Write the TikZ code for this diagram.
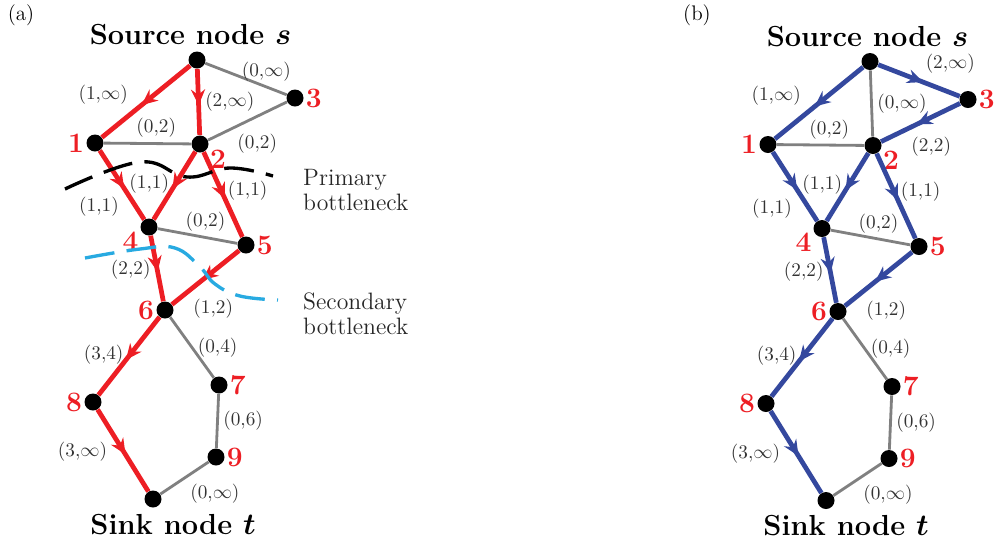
\documentclass[tikz,border=0pt]{standalone}
\usepackage{amsmath}
\usepackage{amssymb}
\usetikzlibrary{arrows.meta, positioning, decorations.markings}

\definecolor{flowred}{RGB}{237,30,36}
\definecolor{flowblue}{RGB}{52,72,158}
\definecolor{cutblue}{RGB}{40,170,225}
\definecolor{edgegray}{RGB}{128,128,128}

\tikzset{
  vertex/.style={circle, fill=black, inner sep=0pt, minimum size=0.34cm},
  num/.style={text=flowred, font=\fontsize{16}{16}\selectfont\bfseries, inner sep=1pt},
  title/.style={font=\fontsize{16.5}{18}\selectfont\bfseries},
  lab/.style={font=\fontsize{11}{13}\selectfont, text=black!80, inner sep=2.5pt},
  grayedge/.style={draw=edgegray, line width=1.6pt},
  flowedge/.style={color=#1, line width=2.7pt, postaction={decorate},
    decoration={markings, mark=at position 0.55 with {\arrow{Stealth[length=9pt,width=8pt,inset=3pt]}}}},
  cutline/.style={line width=1.9pt, dash pattern=on 17pt off 7pt},
}

\begin{document}
\begin{tikzpicture}
\useasboundingbox (0,0) rectangle (20,-10.84);

% panel (a)
\node[font=\large] (capA) at (0.42,-0.30) {(a)};
\begin{scope}
  \node[vertex] (sA) at (3.94,-1.20) {};
  \node[vertex, label={[num]right:3}] (A3) at (5.90,-1.96) {};
  \node[vertex, label={[num]left:1}] (A1) at (1.90,-2.86) {};
  \node[vertex, label={[num]-25:2}] (A2) at (4.00,-2.88) {};
  \node[vertex, label={[num]-162:4}] (A4) at (2.98,-4.54) {};
  \node[vertex, label={[num]right:5}] (A5) at (4.92,-4.90) {};
  \node[vertex, label={[num]left:6}] (A6) at (3.30,-6.20) {};
  \node[vertex, label={[num]right:7}] (A7) at (4.38,-7.70) {};
  \node[vertex, label={[num]left:8}] (A8) at (1.86,-8.04) {};
  \node[vertex, label={[num]right:9}] (A9) at (4.32,-9.14) {};
  \node[vertex] (tA) at (3.06,-9.98) {};
  \node[title, above=0pt of sA, xshift=-0.13cm] (srcA) {Source node $\boldsymbol{s}$};
  \node[title, below=0pt of tA, xshift=0.4cm] (snkA) {Sink node $\boldsymbol{t}$};

  \path (sA) edge[grayedge] node[lab, pos=0.75, above] {$(0{,}\infty)$} (A3)
        (A1) edge[grayedge] node[lab, pos=0.6, above] {$(0{,}2)$} (A2)
        (A2) edge[grayedge] node[lab, pos=0.3, below right] {$(0{,}2)$} (A3)
        (A4) edge[grayedge] node[lab, pos=0.6, above] {$(0{,}2)$} (A5)
        (A6) edge[grayedge] node[lab, pos=0.5, right] {$(0{,}4)$} (A7)
        (A7) edge[grayedge] node[lab, pos=0.5, right] {$(0{,}6)$} (A9)
        (A9) edge[grayedge] node[lab, pos=0.5, below right] {$(0{,}\infty)$} (tA);
  \path (sA) edge[flowedge=flowred] node[lab, pos=0.63, above left] {$(1{,}\infty)$} (A1)
        (sA) edge[flowedge=flowred] node[lab, pos=0.5, right] {$(2{,}\infty)$} (A2)
        (A1) edge[flowedge=flowred] node[lab, pos=0.58, below left] {$(1{,}1)$} (A4)
        (A2) edge[flowedge=flowred] node[lab, pos=0.47, left] {$(1{,}1)$} (A4)
        (A2) edge[flowedge=flowred] node[lab, pos=0.45, right] {$(1{,}1)$} (A5)
        (A4) edge[flowedge=flowred] node[lab, pos=0.52, left] {$(2{,}2)$} (A6)
        (A5) edge[flowedge=flowred] node[lab, pos=0.78, below right] {$(1{,}2)$} (A6)
        (A6) edge[flowedge=flowred] node[lab, pos=0.48, left] {$(3{,}4)$} (A8)
        (A8) edge[flowedge=flowred] node[lab, pos=0.32, below left] {$(3{,}\infty)$} (tA);

  % bottlenecks
  \draw[cutline, black] plot[smooth, tension=0.7] coordinates
    {(1.30,-3.78) (2.80,-3.24) (3.74,-3.54) (4.60,-3.36) (5.46,-3.52)};
  \draw[cutline, cutblue] plot[smooth, tension=0.7] coordinates
    {(1.70,-5.16) (2.80,-4.98) (3.50,-4.96) (4.00,-5.34) (4.30,-5.68) (4.80,-5.92) (5.56,-6.00)};
  \node[font=\fontsize{13.5}{14}\selectfont, text=black!85, align=left, anchor=west] (primA) at (5.94,-3.80) {Primary\\bottleneck};
  \node[font=\fontsize{13.5}{14}\selectfont, text=black!85, align=left, anchor=west] (secA) at (5.94,-6.28) {Secondary\\bottleneck};
\end{scope}

% panel (b)
\node[font=\large] (capB) at (13.94,-0.30) {(b)};
\begin{scope}[xshift=13.46cm, yshift=-0.03cm]
  \node[vertex] (sB) at (3.94,-1.20) {};
  \node[vertex, label={[num]right:3}] (B3) at (5.90,-1.96) {};
  \node[vertex, label={[num]left:1}] (B1) at (1.90,-2.86) {};
  \node[vertex, label={[num]-25:2}] (B2) at (4.00,-2.88) {};
  \node[vertex, label={[num]-162:4}] (B4) at (2.98,-4.54) {};
  \node[vertex, label={[num]right:5}] (B5) at (4.92,-4.90) {};
  \node[vertex, label={[num]left:6}] (B6) at (3.30,-6.20) {};
  \node[vertex, label={[num]right:7}] (B7) at (4.38,-7.70) {};
  \node[vertex, label={[num]left:8}] (B8) at (1.86,-8.04) {};
  \node[vertex, label={[num]right:9}] (B9) at (4.32,-9.14) {};
  \node[vertex] (tB) at (3.06,-9.98) {};
  \node[title, above=0pt of sB, xshift=-0.05cm] (srcB) {Source node $\boldsymbol{s}$};
  \node[title, below=0pt of tB, xshift=0.4cm] (snkB) {Sink node $\boldsymbol{t}$};

  \path (sB) edge[grayedge] node[lab, pos=0.5, right] {$(0{,}\infty)$} (B2)
        (B1) edge[grayedge] node[lab, pos=0.6, above] {$(0{,}2)$} (B2)
        (B4) edge[grayedge] node[lab, pos=0.6, above] {$(0{,}2)$} (B5)
        (B6) edge[grayedge] node[lab, pos=0.5, right] {$(0{,}4)$} (B7)
        (B7) edge[grayedge] node[lab, pos=0.5, right] {$(0{,}6)$} (B9)
        (B9) edge[grayedge] node[lab, pos=0.5, below right] {$(0{,}\infty)$} (tB);
  \path (sB) edge[flowedge=flowblue] node[lab, pos=0.63, above left] {$(1{,}\infty)$} (B1)
        (sB) edge[flowedge=flowblue] node[lab, pos=0.5, above right] {$(2{,}\infty)$} (B3)
        (B3) edge[flowedge=flowblue] node[lab, pos=0.7, below right] {$(2{,}2)$} (B2)
        (B1) edge[flowedge=flowblue] node[lab, pos=0.58, below left] {$(1{,}1)$} (B4)
        (B2) edge[flowedge=flowblue] node[lab, pos=0.47, left] {$(1{,}1)$} (B4)
        (B2) edge[flowedge=flowblue] node[lab, pos=0.45, right] {$(1{,}1)$} (B5)
        (B4) edge[flowedge=flowblue] node[lab, pos=0.52, left] {$(2{,}2)$} (B6)
        (B5) edge[flowedge=flowblue] node[lab, pos=0.78, below right] {$(1{,}2)$} (B6)
        (B6) edge[flowedge=flowblue] node[lab, pos=0.48, left] {$(3{,}4)$} (B8)
        (B8) edge[flowedge=flowblue] node[lab, pos=0.32, below left] {$(3{,}\infty)$} (tB);
\end{scope}
\end{tikzpicture}
\end{document}
